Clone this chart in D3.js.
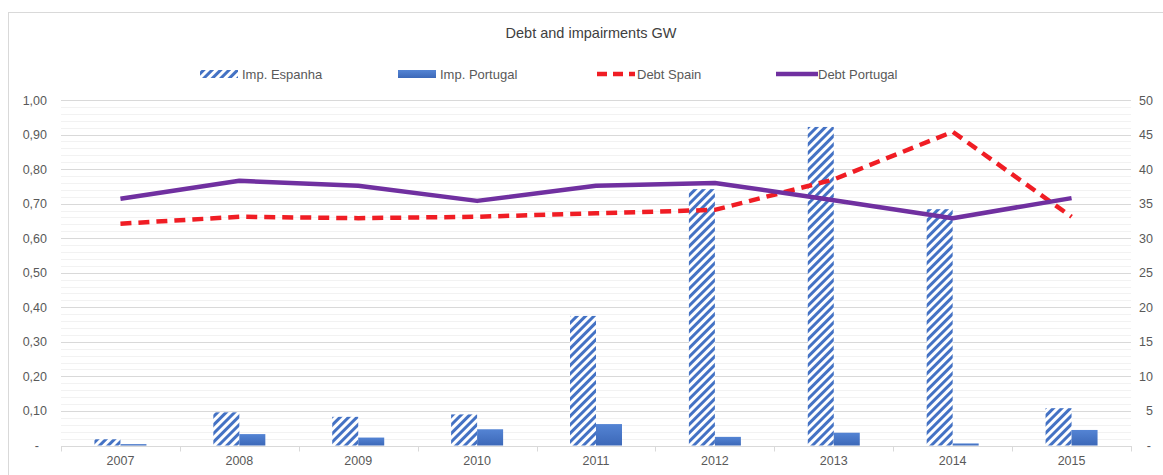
<!DOCTYPE html>
<html>
<head>
<meta charset="utf-8">
<script src="https://cdn.jsdelivr.net/npm/d3@7"></script>
<style>
  body { margin: 0; background: #fff; }
  svg { display: block; font-family: 'Liberation Sans', Arial, sans-serif; }
</style>
</head>
<body>
<svg id="canvas"></svg>
<script>
const years = ['2007', '2008', '2009', '2010', '2011', '2012', '2013', '2014', '2015'];
const impEspanha = [0.018, 0.096, 0.083, 0.090, 0.375, 0.742, 0.922, 0.684, 0.108];
const impPortugal = [0.004, 0.033, 0.023, 0.047, 0.062, 0.025, 0.037, 0.006, 0.045];
const debtSpain = [32.1, 33.1, 32.9, 33.1, 33.6, 34.1, 38.5, 45.4, 33.1];
const debtPortugal = [35.7, 38.3, 37.6, 35.4, 37.6, 38.0, 35.5, 32.9, 35.8];
const leftTicks = [0, 0.1, 0.2, 0.3, 0.4, 0.5, 0.6, 0.7, 0.8, 0.9, 1.0];
const rightTicks = [0, 5, 10, 15, 20, 25, 30, 35, 40, 45, 50];
const legendLabels = ['Imp. Espanha', 'Imp. Portugal', 'Debt Spain', 'Debt Portugal'];

const width = 1163;
const height = 475;
const plotLeft = 61;
const plotRight = 1131;
const plotTop = 100;
const plotBottom = 445.5;
const textColor = '#595959';

const canvas = d3.select('#canvas').attr('width', width).attr('height', height);

// hatch pattern + bar gradient
const defs = canvas.append('defs');
const hatch = defs.append('pattern')
  .attr('id', 'hatch')
  .attr('patternUnits', 'userSpaceOnUse')
  .attr('width', 6).attr('height', 6)
  .attr('patternTransform', 'rotate(45)');
hatch.append('rect').attr('width', 6).attr('height', 6).attr('fill', '#fff');
hatch.append('rect').attr('x', 0).attr('width', 3).attr('height', 6).attr('fill', '#4472c4');

const grad = defs.append('linearGradient')
  .attr('id', 'solid').attr('x1', 0).attr('y1', 0).attr('x2', 0).attr('y2', 1);
grad.append('stop').attr('offset', '0%').attr('stop-color', '#5484d4');
grad.append('stop').attr('offset', '100%').attr('stop-color', '#3c68b8');

// chart frame
canvas.append('rect')
  .attr('x', 8.5).attr('y', 12.5)
  .attr('width', 1170).attr('height', 480)
  .attr('fill', 'none').attr('stroke', '#d9d9d9');

// scales
const xScale = d3.scaleBand().domain(years).range([plotLeft, plotRight]);
const yLeft = d3.scaleLinear().domain([0, 1]).range([plotBottom, plotTop]);
const yRight = d3.scaleLinear().domain([0, 50]).range([plotBottom, plotTop]);

// minor gridlines
canvas.append('g')
  .selectAll('line')
  .data(d3.range(0, 1.0001, 0.02).filter((v) => Math.round(v * 50) % 5 !== 0))
  .enter()
  .append('line')
  .attr('x1', plotLeft).attr('x2', plotRight)
  .attr('y1', (d) => Math.round(yLeft(d)) + 0.5)
  .attr('y2', (d) => Math.round(yLeft(d)) + 0.5)
  .attr('stroke', '#f2f2f2');

// major gridlines
canvas.append('g')
  .selectAll('line')
  .data(leftTicks.slice(1))
  .enter()
  .append('line')
  .attr('x1', plotLeft).attr('x2', plotRight)
  .attr('y1', (d) => Math.round(yLeft(d)) + 0.5)
  .attr('y2', (d) => Math.round(yLeft(d)) + 0.5)
  .attr('stroke', '#d9d9d9');

// left axis
const fmtLeft = (d) => (d === 0 ? '-' : d3.format('.2f')(d).replace('.', ','));
const leftAxis = canvas.append('g')
  .attr('transform', `translate(${plotLeft - 14}, 0)`)
  .call(d3.axisLeft(yLeft).tickValues(leftTicks).tickFormat(fmtLeft).tickSize(0).tickPadding(0));
leftAxis.select('.domain').remove();
leftAxis.selectAll('text')
  .attr('fill', textColor).attr('font-size', '12.5px')
  .attr('dx', (d) => (d === 0 ? -8 : 0));

// right axis
const rightAxis = canvas.append('g')
  .attr('transform', `translate(${plotRight + 22}, 0)`)
  .call(d3.axisLeft(yRight).tickValues(rightTicks).tickFormat((d) => (d === 0 ? '-' : d)).tickSize(0).tickPadding(0));
rightAxis.select('.domain').remove();
rightAxis.selectAll('text')
  .attr('fill', textColor).attr('font-size', '12.5px')
  .attr('dx', (d) => (d === 0 ? -2 : 0));

// bars
const bw = 26;
canvas.append('g')
  .selectAll('rect')
  .data(impEspanha)
  .enter()
  .append('rect')
  .attr('x', (d, i) => xScale(years[i]) + xScale.bandwidth() / 2 - bw)
  .attr('y', (d) => yLeft(d))
  .attr('width', bw)
  .attr('height', (d) => plotBottom - yLeft(d))
  .attr('fill', 'url(#hatch)');

canvas.append('g')
  .selectAll('rect')
  .data(impPortugal)
  .enter()
  .append('rect')
  .attr('x', (d, i) => xScale(years[i]) + xScale.bandwidth() / 2)
  .attr('y', (d) => yLeft(d))
  .attr('width', bw)
  .attr('height', (d) => plotBottom - yLeft(d))
  .attr('fill', 'url(#solid)');

// x axis
const xAxis = canvas.append('g')
  .attr('transform', `translate(0, ${plotBottom + 0.5})`)
  .call(d3.axisBottom(xScale).tickSize(0).tickPadding(10));
xAxis.select('.domain').attr('stroke', '#d9d9d9');
xAxis.selectAll('text').attr('fill', textColor).attr('font-size', '12.5px');
canvas.append('g')
  .selectAll('line')
  .data(d3.range(0, years.length + 1))
  .enter()
  .append('line')
  .attr('x1', (d) => Math.round(plotLeft + d * xScale.step()) + 0.5)
  .attr('x2', (d) => Math.round(plotLeft + d * xScale.step()) + 0.5)
  .attr('y1', plotBottom + 0.5).attr('y2', plotBottom + 6)
  .attr('stroke', '#d9d9d9');

// lines
const line = d3.line()
  .x((d, i) => xScale(years[i]) + xScale.bandwidth() / 2)
  .y((d) => yRight(d));

canvas.append('path')
  .datum(debtSpain)
  .attr('d', line)
  .attr('fill', 'none')
  .attr('stroke', '#f01d24')
  .attr('stroke-width', 4.5)
  .attr('stroke-dasharray', '11 7');

canvas.append('path')
  .datum(debtPortugal)
  .attr('d', line)
  .attr('fill', 'none')
  .attr('stroke', '#7030a0')
  .attr('stroke-width', 4.5)
  .attr('stroke-linejoin', 'round');

// title
canvas.append('text')
  .attr('x', 591).attr('y', 38)
  .attr('text-anchor', 'middle')
  .attr('fill', '#404040')
  .attr('font-size', '14.5px')
  .text('Debt and impairments GW');

// legend
const legendY = 74;
const legendX = [200, 398, 595, 776];
const legend = canvas.append('g');
legendLabels.forEach((label, i) => {
  const x = legendX[i];
  if (i === 0) {
    legend.append('rect').attr('x', x).attr('y', legendY - 4).attr('width', 38).attr('height', 8).attr('fill', 'url(#hatch)');
  } else if (i === 1) {
    legend.append('rect').attr('x', x).attr('y', legendY - 4).attr('width', 38).attr('height', 8).attr('fill', 'url(#solid)');
  } else if (i === 2) {
    legend.append('line').attr('x1', x + 2).attr('x2', x + 40).attr('y1', legendY).attr('y2', legendY)
      .attr('stroke', '#f01d24').attr('stroke-width', 4.5).attr('stroke-dasharray', '10 6');
  } else {
    legend.append('line').attr('x1', x).attr('x2', x + 42).attr('y1', legendY).attr('y2', legendY)
      .attr('stroke', '#7030a0').attr('stroke-width', 4.5);
  }
  legend.append('text')
    .attr('x', x + 42).attr('y', legendY + 4.5)
    .attr('fill', textColor)
    .attr('font-size', '13px')
    .text(label);
});
</script>
</body>
</html>
